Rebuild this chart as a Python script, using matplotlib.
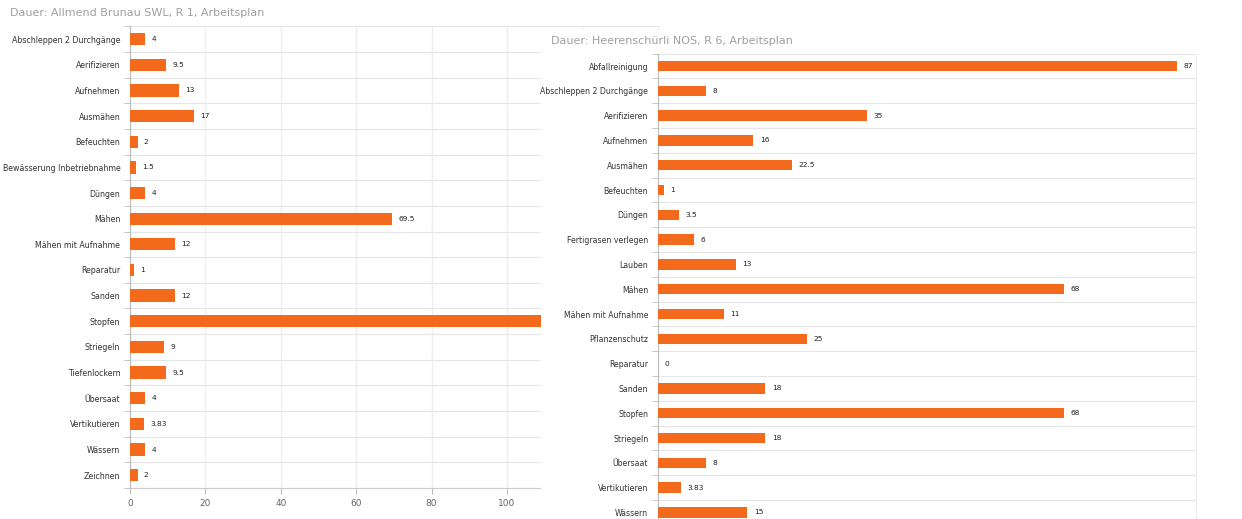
import numpy as np
import matplotlib
matplotlib.use("Agg")
import matplotlib.pyplot as plt

# left chart: Allmend Brunau
left_title = "Dauer: Allmend Brunau SWL, R 1, Arbeitsplan"
left_cats = ["Abschleppen 2 Durchgänge", "Aerifizieren", "Aufnehmen", "Ausmähen",
             "Befeuchten", "Bewässerung Inbetriebnahme", "Düngen", "Mähen",
             "Mähen mit Aufnahme", "Reparatur", "Sanden", "Stopfen", "Striegeln",
             "Tiefenlockern", "Übersaat", "Vertikutieren", "Wässern", "Zeichnen"]
left_vals = [4, 9.5, 13, 17, 2, 1.5, 4, 69.5, 12, 1, 12, 150, 9, 9.5, 4, 3.83, 4, 2]
left_ticks = [0, 20, 40, 60, 80, 100, 120, 140]

# right chart: Heerenschürli
right_title = "Dauer: Heerenschürli NOS, R 6, Arbeitsplan"
right_cats = ["Abfallreinigung", "Abschleppen 2 Durchgänge", "Aerifizieren", "Aufnehmen",
              "Ausmähen", "Befeuchten", "Düngen", "Fertigrasen verlegen", "Lauben",
              "Mähen", "Mähen mit Aufnahme", "Pflanzenschutz", "Reparatur", "Sanden",
              "Stopfen", "Striegeln", "Übersaat", "Vertikutieren", "Wässern"]
right_vals = [87, 8, 35, 16, 22.5, 1, 3.5, 6, 13, 68, 11, 25, 0, 18, 68, 18, 8, 3.83, 15]

BAR = "#F36A1C"
GRID = "#E6E6E6"
W, H = 1242, 519


def fmt(v):
    return ("%g" % v)


def px(x0, y0, x1, y1):
    # pixel box -> figure fraction
    return [x0 / W, 1 - y1 / H, (x1 - x0) / W, (y1 - y0) / H]


def bar_chart(ax, cats, vals, xmax, bar_h, fs):
    n = len(cats)
    y = np.arange(n)
    ax.barh(y, vals, height=bar_h, color=BAR, zorder=3)
    for yi, v in zip(y, vals):
        ax.text(v + xmax * 0.012, yi, fmt(v), va="center", ha="left",
                fontsize=5.3, color="#222222", zorder=4)
    ax.set_xlim(0, xmax)
    ax.set_ylim(n - 0.5, -0.5)
    ax.set_yticks(y)
    ax.set_yticklabels(cats, fontsize=fs, color="#333333")
    ax.set_yticks(np.arange(n + 1) - 0.5, minor=True)
    ax.tick_params(axis="y", which="major", length=0, pad=7)
    ax.tick_params(axis="y", which="minor", length=4, color="#BBBBBB")
    ax.grid(which="minor", axis="y", color=GRID, lw=0.8, zorder=0)
    for s in ["top", "right", "bottom"]:
        ax.spines[s].set_visible(False)
    ax.spines["left"].set_color("#BBBBBB")
    ax.spines["left"].set_linewidth(0.8)


fig = plt.figure(figsize=(W / 100, H / 100), dpi=100)
fig.patch.set_facecolor("white")

# left panel
axl = fig.add_axes(px(130, 26.3, 660, 488))
bar_chart(axl, left_cats, left_vals, 140.6, 0.48, 5.7)
axl.set_xticks(left_ticks)
axl.set_xticklabels([str(t) for t in left_ticks], fontsize=6.5, color="#666666")
axl.tick_params(axis="x", length=4, color="#BBBBBB", pad=4)
axl.grid(which="major", axis="x", color="#EEEEEE", lw=1.0, zorder=0)
axl.spines["bottom"].set_visible(True)
axl.spines["bottom"].set_color("#CCCCCC")
fig.text(10 / W, 1 - 13 / H, left_title, fontsize=8, color="#A0A0A0", va="center", ha="left")

# white cover for the second screenshot
cover = fig.add_axes(px(541, 30, W, H))
cover.set_facecolor("white")
cover.set_xticks([])
cover.set_yticks([])
for s in cover.spines.values():
    s.set_visible(False)

# right panel
axr = fig.add_axes(px(658, 53.6, 1196, 524.8))
bar_chart(axr, right_cats, right_vals, 90.2, 0.42, 5.6)
axr.set_xticks([])
axr.spines["right"].set_visible(True)
axr.spines["right"].set_color("#EEEEEE")
fig.text(551 / W, 1 - 41 / H, right_title, fontsize=8, color="#A0A0A0", va="center", ha="left")

fig.savefig("out.png", dpi=100, facecolor="white")
